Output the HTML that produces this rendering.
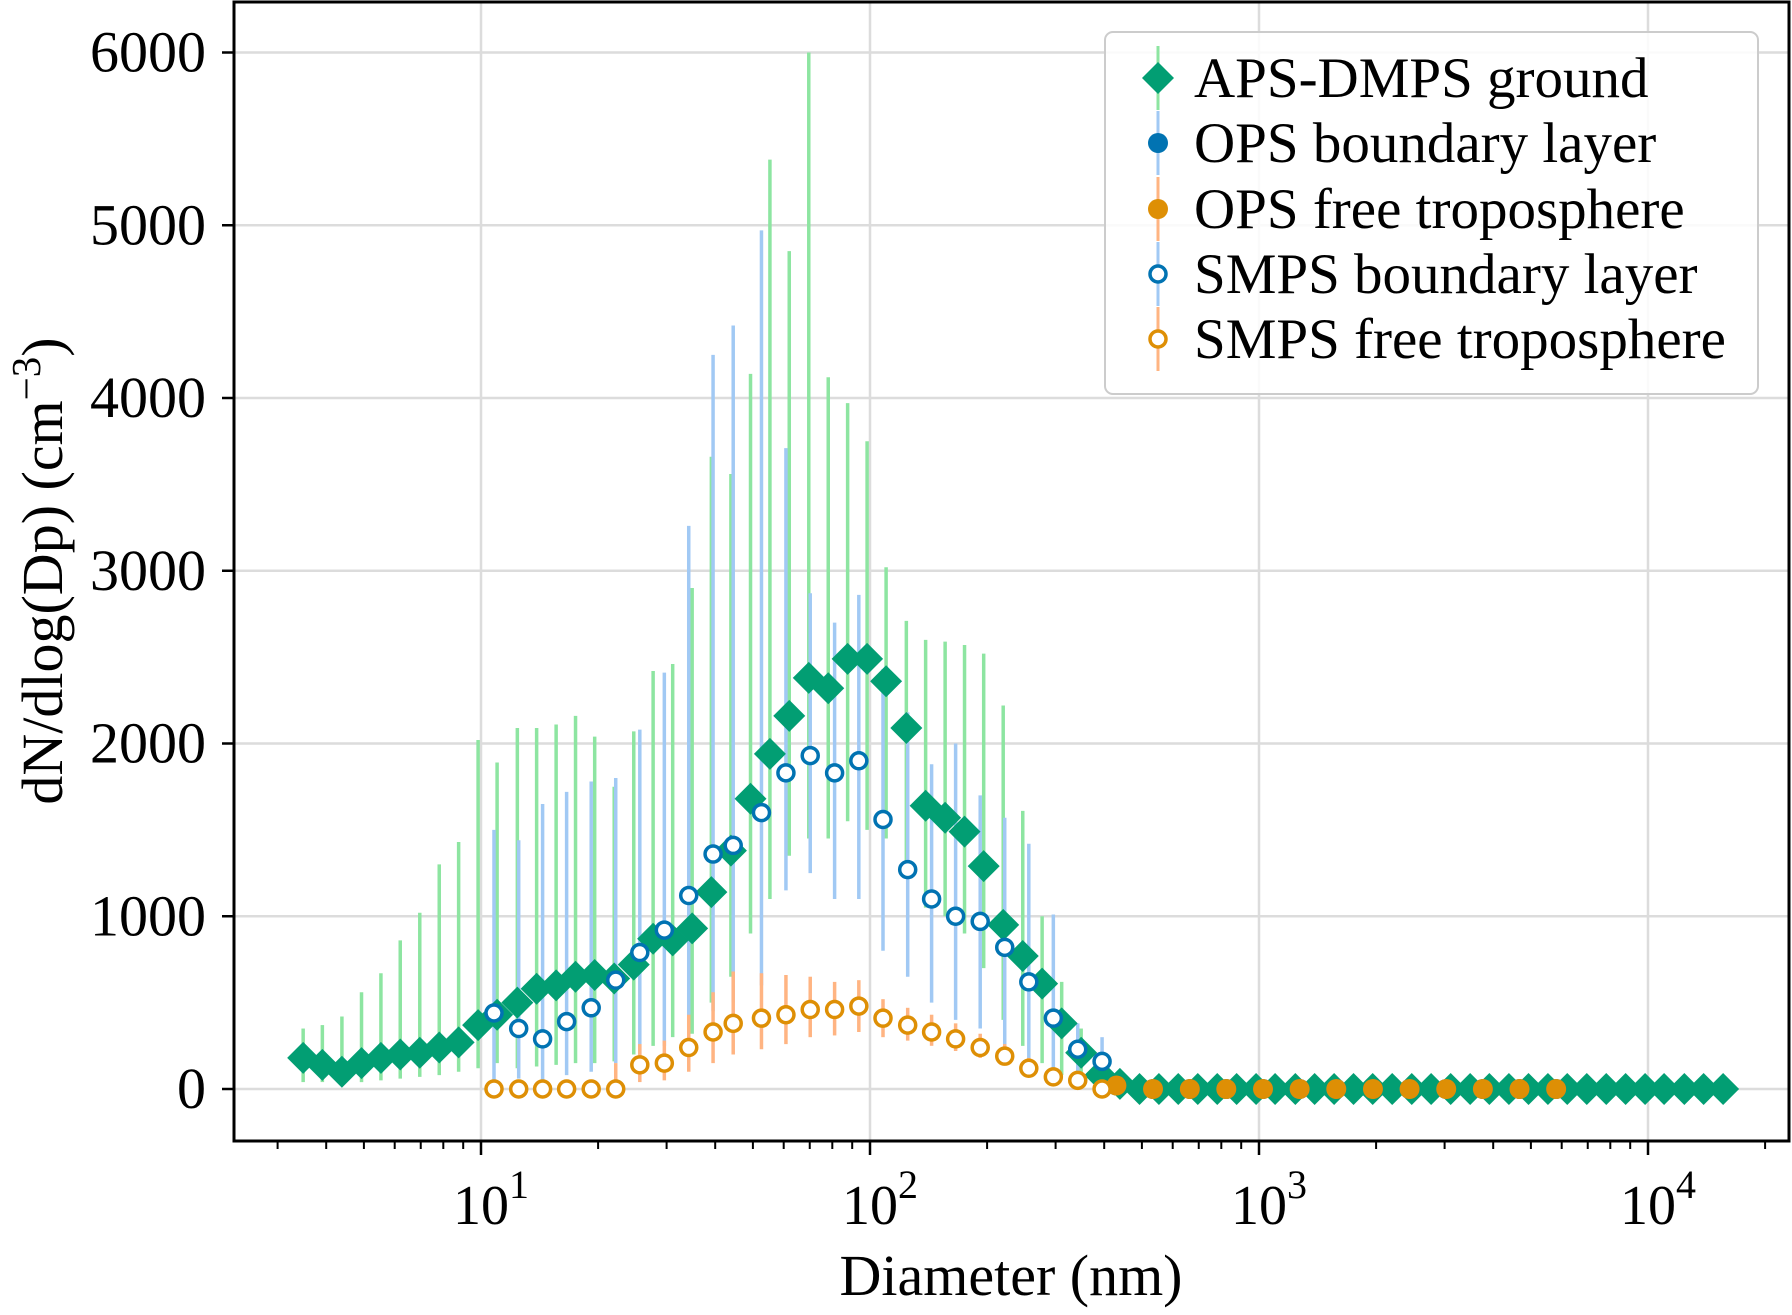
<!DOCTYPE html>
<html><head><meta charset="utf-8"><style>
body{margin:0;background:#fff}
svg text{font-family:"Liberation Serif",serif;fill:#000}
</style></head><body>
<svg id="chart" width="1792" height="1310" viewBox="0 0 1792 1310" xmlns="http://www.w3.org/2000/svg">
<g id="grid"></g>
<g id="series"></g>
<rect x="234" y="2" width="1555" height="1139" fill="none" stroke="#000" stroke-width="3"/>
<g id="axes"></g>
<text x="1011" y="1295" font-size="58" text-anchor="middle">Diameter (nm)</text>
<text transform="translate(62,571) rotate(-90)" font-size="58" text-anchor="middle">dN/dlog(Dp) (cm<tspan dy="-22" font-size="41">−3</tspan><tspan dy="22">)</tspan></text>
<g>
<rect x="1105" y="32" width="653" height="362" rx="8" fill="#fff" fill-opacity="0.85" stroke="#ccc" stroke-width="2"/>
<g><line x1="1158" y1="46" x2="1158" y2="110" stroke="#8de5a1" stroke-width="3"/><path d="M1158 62 L1174 78 L1158 94 L1142 78Z" fill="#029e73"/><text x="1194" y="97" font-size="57">APS-DMPS ground</text></g>
<g><line x1="1158" y1="111" x2="1158" y2="175" stroke="#a1c9f4" stroke-width="3"/><circle cx="1158" cy="143" r="10" fill="#0173b2"/><text x="1194" y="162" font-size="57">OPS boundary layer</text></g>
<g><line x1="1158" y1="177" x2="1158" y2="241" stroke="#ffb482" stroke-width="3"/><circle cx="1158" cy="209" r="10" fill="#de8f05"/><text x="1194" y="228" font-size="57">OPS free troposphere</text></g>
<g><line x1="1158" y1="242" x2="1158" y2="306" stroke="#a1c9f4" stroke-width="3"/><circle cx="1158" cy="274" r="8" fill="#fff" stroke="#0173b2" stroke-width="3.5"/><text x="1194" y="293" font-size="57">SMPS boundary layer</text></g>
<g><line x1="1158" y1="307" x2="1158" y2="371" stroke="#ffb482" stroke-width="3"/><circle cx="1158" cy="339" r="8" fill="#fff" stroke="#de8f05" stroke-width="3.5"/><text x="1194" y="358" font-size="57">SMPS free troposphere</text></g>
</g>
</svg>
<script>
const apsD=[3.49,3.91,4.39,4.93,5.53,6.20,6.96,7.81,8.76,9.83,11.0,12.4,13.9,15.6,17.5,19.6,22.0,24.7,27.7,31.1,34.9,39.1,43.9,49.3,55.3,62.0,69.6,78.1,87.6,98.3,110,124,139,156,175,196,220,247,277,311,349,391,439,493,553,620,696,781,876,983,1100,1240,1390,1560,1750,1960,2200,2470,2770,3110,3490,3910,4390,4930,5530,6200,6960,7810,8760,9830,11000,12400,13900,15600];
const apsV=[180,140,100,150,180,200,210,240,270,370,430,500,580,600,650,660,640,720,870,860,930,1140,1380,1680,1940,2160,2380,2320,2490,2490,2360,2090,1640,1570,1490,1290,950,770,610,380,210,80,30,0,0,0,0,0,0,0,0,0,0,0,0,0,0,0,0,0,0,0,0,0,0,0,0,0,0,0,0,0,0,0,0];
const apsHi=[350,370,420,560,670,860,1020,1300,1430,2020,1890,2090,2090,2110,2160,2040,1750,2070,2420,2460,2900,3660,3560,4140,5380,4850,6000,4120,3970,3750,3020,2710,2600,2590,2570,2520,2220,1610,1000,620,350,100,40,0,0,0,0,0,0,0,0,0,0,0,0,0,0,0,0,0,0,0,0,0,0,0,0,0,0,0,0,0,0,0,0];
const apsLo=[40,40,30,40,50,60,70,80,100,120,150,120,130,140,150,150,160,200,250,300,320,500,650,900,1100,1350,1450,1450,1550,1500,1450,1300,1050,1000,900,700,400,250,150,80,30,10,0,0,0,0,0,0,0,0,0,0,0,0,0,0,0,0,0,0,0,0,0,0,0,0,0,0,0,0,0,0,0,0];
const smpsD=[10.8,12.5,14.4,16.6,19.2,22.2,25.6,29.6,34.2,39.5,44.5,52.6,60.8,70.2,81.1,93.6,108,125,144,166,192,222,256,296,342,395];
const smpsBL=[440,350,290,390,470,630,790,920,1120,1360,1410,1600,1830,1930,1830,1900,1560,1270,1100,1000,970,820,620,410,230,160];
const smpsBLHi=[1500,1440,1650,1720,1780,1800,2080,2410,3260,4250,4420,4970,3710,2870,2700,2860,2430,2180,1880,2000,1700,1570,1420,1010,380,300];
const smpsBLLo=[50,60,40,80,100,150,200,250,350,450,500,600,1150,1250,1100,1100,800,650,500,400,350,250,100,30,20,20];
const smpsFT=[0,0,0,0,0,0,140,150,240,330,380,410,430,460,460,480,410,370,330,290,240,190,120,70,50,0];
const smpsFTHi=[0,0,0,0,0,150,260,280,430,560,680,670,660,650,620,630,520,470,430,380,320,260,180,120,100,10];
const smpsFTLo=[0,0,0,0,0,0,40,50,100,150,200,230,260,300,310,330,300,280,250,220,180,140,70,30,10,0];
const opsD=[430,534,664,824,1024,1272,1580,1963,2438,3029,3763,4674,5806];
const opsBL=[20,0,0,0,0,0,0,0,0,0,0,0,0];
const opsFT=[20,0,0,0,0,0,0,0,0,0,0,0,0];
const yTicks=[0,1000,2000,3000,4000,5000,6000];
const xDecades=[1,2,3,4];

const NS="http://www.w3.org/2000/svg";
const X=d=>481+389*(Math.log10(d)-1);
const Y=v=>1089-v*0.17275;
function mk(tag,attrs,parent){const e=document.createElementNS(NS,tag);for(const k in attrs)e.setAttribute(k,attrs[k]);parent.appendChild(e);return e;}
const grid=document.getElementById('grid'),axes=document.getElementById('axes'),ser=document.getElementById('series');

yTicks.forEach(v=>{
  const g=mk('line',{x1:234,x2:1789,y1:Y(v),y2:Y(v),stroke:'#dcdcdc','stroke-width':2.5},grid);
  
  
  const t=mk('line',{x1:222,x2:234,y1:Y(v),y2:Y(v),stroke:'#000','stroke-width':2.5},axes);
  
  
  const l=mk('text',{x:206,y:Y(v)+19,'font-size':58,'text-anchor':'end'},axes);
  l.textContent=v;
  
  
});
xDecades.forEach(p=>{
  const x=X(Math.pow(10,p));
  const g=mk('line',{x1:x,x2:x,y1:2,y2:1141,stroke:'#dcdcdc','stroke-width':2.5},grid);
  
  
  const t=mk('line',{x1:x,x2:x,y1:1141,y2:1155,stroke:'#000','stroke-width':2.5},axes);
  
  
  const l=mk('text',{x:x+10,y:1224,'font-size':56,'text-anchor':'middle'},axes);
  l.innerHTML='10<tspan dy="-26" font-size="40">'+p+'</tspan>';
  
  
});
for(let p=0;p<=4;p++)for(let m=2;m<=9;m++){
  const x=X(m*Math.pow(10,p));
  if(x<236||x>1787)continue;
  const t=mk('line',{x1:x,x2:x,y1:1141,y2:1149,stroke:'#000','stroke-width':2},axes);
  
  
}
function errbars(D,lo,hi,col,name){
  D.forEach((d,i)=>{
    if(!(hi[i]>lo[i]))return;
    const e=mk('line',{x1:X(d),x2:X(d),y1:Y(lo[i]),y2:Y(hi[i]),stroke:col,'stroke-width':3.5},ser);
    
    
  });
}
errbars(apsD,apsLo,apsHi,'#8de5a1','aps-error-bar');
errbars(smpsD,smpsBLLo,smpsBLHi,'#a1c9f4','smps-bl-error-bar');
errbars(smpsD,smpsFTLo,smpsFTHi,'#ffb482','smps-ft-error-bar');
apsD.forEach((d,i)=>{
  const x=X(d),y=Y(apsV[i]);
  const p=mk('path',{d:`M${x} ${y-16}L${x+16} ${y}L${x} ${y+16}L${x-16} ${y}Z`,fill:'#029e73'},ser);
  
  
});
opsD.forEach((d,i)=>{
  const c=mk('circle',{cx:X(d),cy:Y(opsBL[i]),r:10,fill:'#0173b2'},ser);
  
  
});
opsD.forEach((d,i)=>{
  const c=mk('circle',{cx:X(d),cy:Y(opsFT[i]),r:10,fill:'#de8f05'},ser);
  
  
});
smpsD.forEach((d,i)=>{
  const c=mk('circle',{cx:X(d),cy:Y(smpsBL[i]),r:8,fill:'#fff',stroke:'#0173b2','stroke-width':3.5},ser);
  
  
});
smpsD.forEach((d,i)=>{
  const c=mk('circle',{cx:X(d),cy:Y(smpsFT[i]),r:8,fill:'#fff',stroke:'#de8f05','stroke-width':3.5},ser);
  
  
});
</script>
</body></html>
